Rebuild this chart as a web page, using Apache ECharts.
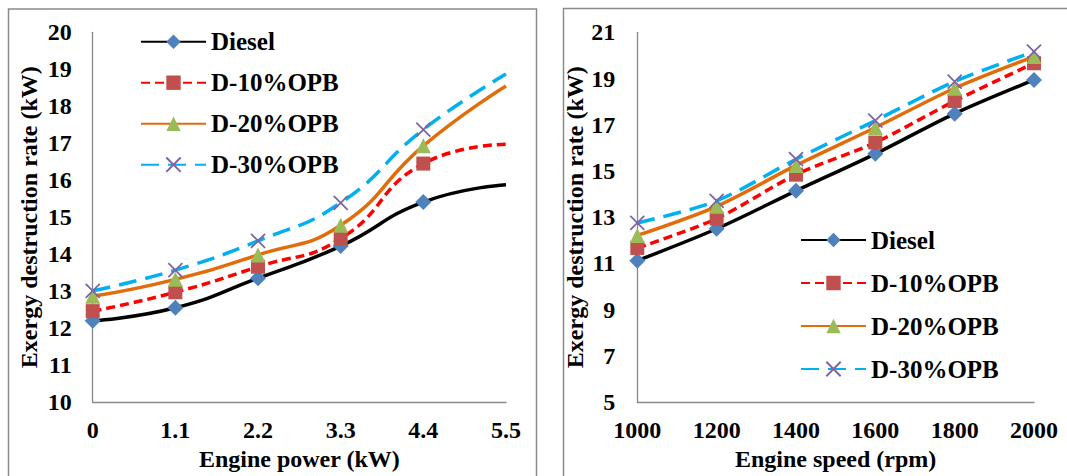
<!DOCTYPE html>
<html>
<head>
<meta charset="utf-8">
<script src="https://cdn.jsdelivr.net/npm/echarts@6/dist/echarts.min.js"></script>
<style>
  html, body { margin: 0; padding: 0; background: #fff; }
  #chart { width: 1067px; height: 476px; }
</style>
</head>
<body>
<div id="chart"></div>
<script>
// Engine power sweep (left panel)
const powerCategories = ['0', '1.1', '2.2', '3.3', '4.4', '5.5'];
const powerDiesel = [12.2, 12.55, 13.35, 14.22, 15.41, 15.88];
const powerOPB10 = [12.46, 12.97, 13.66, 14.42, 16.45, 16.97];
const powerOPB20 = [12.86, 13.32, 13.98, 14.78, 16.93, 18.55];
const powerOPB30 = [13.01, 13.57, 14.36, 15.39, 17.37, 18.87];

// Engine speed sweep (right panel)
const speedCategories = ['1000', '1200', '1400', '1600', '1800', '2000'];
const speedDiesel = [11.12, 12.5, 14.14, 15.74, 17.48, 18.94];
const speedOPB10 = [11.67, 12.94, 14.84, 16.23, 18.03, 19.66];
const speedOPB20 = [12.21, 13.47, 15.24, 16.88, 18.58, 19.95];
const speedOPB30 = [12.75, 13.71, 15.51, 17.18, 18.87, 20.16];

const seriesNames = ['Diesel', 'D-10%OPB', 'D-20%OPB', 'D-30%OPB'];

const FONT = "'Liberation Serif', 'Times New Roman', serif";
const AXIS_GREY = '#898989';

const styles = [
  { line: { color: '#000000', width: 3.5, type: 'solid' },
    symbol: 'diamond', size: 16, item: { color: '#4F81BD' } },
  { line: { color: '#FF0000', width: 3.5, type: [9, 5] },
    symbol: 'rect', size: 14, item: { color: '#C0504D' } },
  { line: { color: '#E36C0A', width: 3.5, type: 'solid' },
    symbol: 'triangle', size: 15, item: { color: '#9BBB59' } },
  { line: { color: '#00B0F0', width: 3.5, type: [18, 9] },
    symbol: 'path://M0,0L10,10M10,0L0,10', size: 14,
    item: { color: '#8064A2', borderColor: '#8064A2', borderWidth: 1.8 } }
];

// Left panel: last point drawn without a marker
function hideLast(arr) {
  return arr.map((v, i) => i === arr.length - 1 ? { value: v, symbol: 'none' } : v);
}

function makeSeries(data, idx, panel, smooth) {
  const s = styles[idx];
  return {
    name: seriesNames[idx],
    type: 'line',
    xAxisIndex: panel,
    yAxisIndex: panel,
    data: data,
    smooth: smooth,
    symbol: s.symbol,
    symbolSize: s.size,
    showAllSymbol: true,
    lineStyle: s.line,
    itemStyle: s.item,
    z: 2 + idx
  };
}

function xAxisCfg(gridIndex, cats, name) {
  return {
    type: 'category',
    gridIndex: gridIndex,
    data: cats,
    boundaryGap: false,
    name: name,
    nameLocation: 'middle',
    nameGap: 43,
    nameTextStyle: { fontFamily: FONT, fontWeight: 'bold', fontSize: 24, color: '#000' },
    axisLine: { lineStyle: { color: AXIS_GREY, width: 1.3 } },
    axisTick: { show: false },
    axisLabel: { interval: 0, margin: 16, fontFamily: FONT, fontWeight: 'bold', fontSize: 24, color: '#000' },
    splitLine: { show: false }
  };
}

function yAxisCfg(gridIndex, min, max, interval, nameGap, labelMargin) {
  return {
    type: 'value',
    gridIndex: gridIndex,
    min: min, max: max, interval: interval,
    name: 'Exergy destruction rate (kW)',
    nameLocation: 'middle',
    nameGap: nameGap,
    nameRotate: 90,
    nameTextStyle: { fontFamily: FONT, fontWeight: 'bold', fontSize: 24, color: '#000' },
    axisLine: { show: true, lineStyle: { color: AXIS_GREY, width: 1.3 } },
    axisTick: { show: false },
    axisLabel: { margin: labelMargin, fontFamily: FONT, fontWeight: 'bold', fontSize: 24, color: '#000' },
    splitLine: { show: false }
  };
}

function legendCfg(left, top, gap) {
  return {
    orient: 'vertical',
    left: left,
    top: top,
    padding: 0,
    itemWidth: 65,
    itemHeight: 18,
    itemGap: gap,
    selectedMode: false,
    data: seriesNames,
    textStyle: { fontFamily: FONT, fontWeight: 'bold', fontSize: 25, lineHeight: 25, color: '#000' }
  };
}

const chart = echarts.init(document.getElementById('chart'), null, { renderer: 'svg' });

chart.setOption({
  animation: false,
  backgroundColor: '#fff',
  graphic: [
    { type: 'rect', shape: { x: 8.5, y: 9, width: 528, height: 520 },
      style: { fill: 'none', stroke: '#8a8a8a', lineWidth: 1.5 }, silent: true },
    { type: 'rect', shape: { x: 563.5, y: 8.5, width: 600, height: 520 },
      style: { fill: 'none', stroke: '#8a8a8a', lineWidth: 1.5 }, silent: true }
  ],
  grid: [
    { left: 92.7, top: 32.3, width: 413.3, height: 371.7 },
    { left: 637.3, top: 32.3, width: 396.7, height: 370.4 }
  ],
  xAxis: [
    xAxisCfg(0, powerCategories, 'Engine power (kW)'),
    xAxisCfg(1, speedCategories, 'Engine speed (rpm)')
  ],
  yAxis: [
    yAxisCfg(0, 10, 20, 1, 52, 21),
    yAxisCfg(1, 5, 21, 2, 45, 22)
  ],
  legend: [
    legendCfg(140, 29.2, 16),
    legendCfg(800, 227.5, 18)
  ],
  series: [
    makeSeries(hideLast(powerDiesel), 0, 0, 0.5),
    makeSeries(hideLast(powerOPB10), 1, 0, 0.5),
    makeSeries(hideLast(powerOPB20), 2, 0, 0.5),
    makeSeries(hideLast(powerOPB30), 3, 0, 0.5),
    makeSeries(speedDiesel, 0, 1, 0.3),
    makeSeries(speedOPB10, 1, 1, 0.3),
    makeSeries(speedOPB20, 2, 1, 0.3),
    makeSeries(speedOPB30, 3, 1, 0.3)
  ]
});
</script>
</body>
</html>
